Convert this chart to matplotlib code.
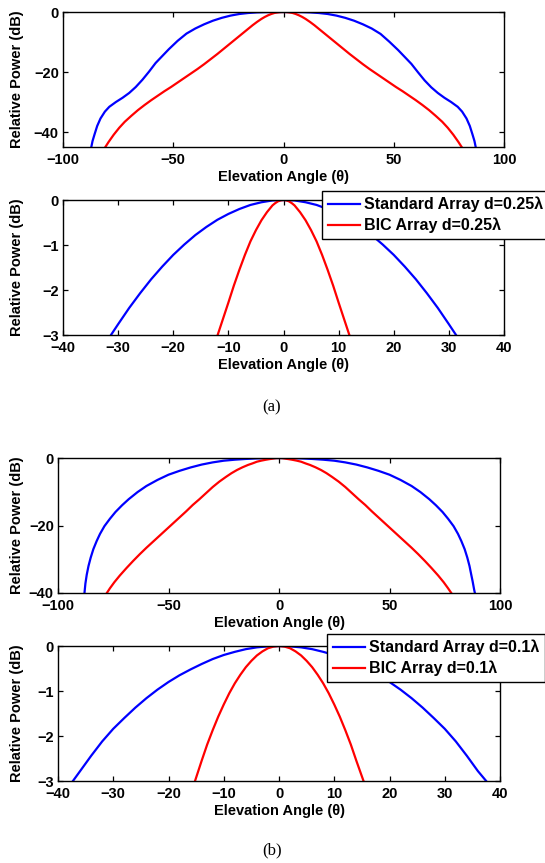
import matplotlib
matplotlib.use('Agg')
import matplotlib.pyplot as plt

plt.rcParams['font.family'] = ['Liberation Sans', 'DejaVu Sans']
plt.rcParams['font.weight'] = 'bold'

W, H = 545, 863

# panel (a) top: d = 0.25 lambda, full range
a1_std_theta = [-87.3, -86.6, -85.7, -84.5, -83.0, -81.0, -79.0, -76.0, -73.0, -70.0, -67.0, -64.0,
                -61.0, -58.0, -55.0, -52.0, -48.0, -44.0, -40.0, -36.0, -32.0, -28.0, -24.0, -20.0,
                -16.0, -12.0, -8.0, -4.0, 0.0,
                4.0, 8.0, 12.0, 16.0, 20.0, 24.0, 28.0, 32.0, 36.0, 40.0, 44.0, 48.0, 52.0,
                55.0, 58.0, 61.0, 64.0, 67.0, 70.0, 73.0, 76.0, 79.0, 81.0, 83.0, 84.5, 85.7,
                86.6, 87.3]
a1_std_db = [-45.5, -43.0, -40.8, -38.0, -35.5, -33.2, -31.6, -30.0, -28.6, -27.0, -25.0, -22.6,
             -19.9, -17.0, -14.7, -12.4, -9.6, -7.2, -5.5, -4.1, -2.9, -1.95, -1.2, -0.66,
             -0.33, -0.13, -0.04, -0.01, 0.0,
             -0.01, -0.04, -0.13, -0.33, -0.66, -1.2, -1.95, -2.9, -4.1, -5.5, -7.3, -9.9, -12.7,
             -15.0, -17.3, -20.1, -22.8, -25.1, -27.0, -28.6, -30.0, -31.6, -33.2, -35.5, -38.0, -40.8,
             -43.0, -45.5]

a1_bic_theta = [-81.5, -79.3, -77.0, -74.5, -72.0, -69.0, -66.0, -63.0, -60.0, -57.0, -54.0, -51.0,
                -48.0, -45.0, -42.0, -39.0, -36.0, -33.0, -30.0, -28.0, -26.0, -24.0, -22.0, -20.0,
                -18.0, -16.0, -14.0, -12.0, -10.0, -8.5, -7.0, -5.5, -4.0, -3.0, -2.0, -1.0, 0.0,
                1.0, 2.0, 3.0, 4.0, 5.5, 7.0, 8.5, 10.0, 12.0, 14.0, 16.0, 18.0, 20.0, 22.0, 24.0,
                26.0, 28.0, 30.0, 33.0, 36.0, 39.0, 42.0, 45.0, 48.0, 51.0, 54.0, 57.0, 60.0, 63.0,
                66.0, 69.0, 72.0, 74.5, 77.0, 79.3, 81.5]
a1_bic_db = [-45.8, -43.3, -40.9, -38.6, -36.6, -34.6, -32.7, -31.0, -29.4, -27.9, -26.4, -25.0,
             -23.5, -22.0, -20.5, -19.0, -17.4, -15.7, -14.0, -12.8, -11.6, -10.4, -9.2, -8.0,
             -6.8, -5.6, -4.4, -3.3, -2.3, -1.65, -1.1, -0.65, -0.3, -0.18, -0.08, -0.02, 0.0,
             -0.02, -0.08, -0.18, -0.3, -0.65, -1.1, -1.65, -2.3, -3.3, -4.4, -5.6, -6.8, -8.0, -9.2, -10.4,
             -11.6, -12.8, -14.0, -15.7, -17.4, -19.0, -20.5, -22.0, -23.5, -25.0, -26.4, -27.9, -29.4, -31.0,
             -32.7, -34.6, -36.6, -38.6, -40.9, -43.3, -45.8]

# panel (a) bottom: d = 0.25 lambda, zoom on main lobe
a2_std_theta = [-32.0, -31.3, -30.0, -28.0, -26.0, -24.0, -22.0, -20.0, -18.0, -16.0, -14.0, -12.0,
                -10.0, -8.0, -6.0, -4.0, -2.0, 0.0,
                2.0, 4.0, 6.0, 8.0, 10.0, 12.0, 14.0, 16.0, 18.0, 20.0, 22.0, 24.0, 26.0, 28.0,
                30.0, 31.3, 32.0]
a2_std_db = [-3.14, -3.0, -2.76, -2.4, -2.07, -1.76, -1.48, -1.22, -0.99, -0.78, -0.6, -0.44,
             -0.31, -0.2, -0.11, -0.05, -0.01, 0.0,
             -0.01, -0.05, -0.11, -0.2, -0.31, -0.44, -0.6, -0.78, -0.99, -1.22, -1.48, -1.76, -2.07, -2.4,
             -2.76, -3.0, -3.14]

a2_bic_theta = [-12.3, -12.0, -11.0, -10.0, -9.0, -8.0, -7.0, -6.0, -5.0, -4.0, -3.0, -2.0, -1.5, -1.0,
                -0.5, 0.0, 0.5, 1.0, 1.5, 2.0, 3.0, 4.0, 5.0, 6.0, 7.0, 8.0, 9.0, 10.0, 11.0, 12.0, 12.3]
a2_bic_db = [-3.12, -3.02, -2.65, -2.28, -1.9, -1.55, -1.22, -0.92, -0.67, -0.45, -0.27, -0.12, -0.07, -0.03,
             -0.008, 0.0, -0.008, -0.03, -0.07, -0.12, -0.27, -0.45, -0.67, -0.92, -1.22, -1.55, -1.9, -2.28,
             -2.65, -3.02, -3.12]

# panel (b) top: d = 0.1 lambda, full range
b1_std_theta = [-88.1, -87.6, -87.0, -86.2, -85.2, -84.0, -82.5, -81.0, -79.0, -76.5, -74.0, -71.0,
                -68.0, -64.0, -60.0, -55.0, -50.0, -45.0, -40.0, -35.0, -30.0, -25.0, -20.0, -15.0,
                -10.0, -5.0, 0.0,
                5.0, 10.0, 15.0, 20.0, 25.0, 30.0, 35.0, 40.0, 45.0, 50.0, 55.0, 60.0, 64.0, 68.0,
                71.0, 74.0, 76.5, 79.0, 81.0, 82.5, 84.0, 85.2, 86.2, 87.0, 87.6, 88.3, 88.8]
b1_std_db = [-40.5, -37.2, -34.6, -32.0, -29.5, -27.0, -24.6, -22.5, -20.2, -18.0, -16.0, -14.0,
             -12.2, -10.1, -8.3, -6.5, -4.95, -3.8, -2.8, -1.95, -1.3, -0.8, -0.5, -0.28,
             -0.12, -0.03, 0.0,
             -0.03, -0.12, -0.28, -0.5, -0.8, -1.3, -1.95, -2.8, -3.8, -4.95, -6.5, -8.3, -10.1, -12.2,
             -14.0, -16.0, -18.0, -20.2, -22.5, -24.6, -27.0, -29.5, -32.0, -34.6, -36.5, -39.0, -40.5]

b1_bic_theta = [-78.7, -76.5, -74.5, -72.0, -69.0, -66.0, -63.0, -60.0, -57.0, -54.0, -51.0, -48.0,
                -45.0, -42.0, -39.0, -36.0, -33.0, -30.0, -27.0, -24.0, -21.5, -19.0, -16.5, -14.0,
                -12.0, -10.0, -8.0, -6.0, -4.5, -3.0, -1.5, 0.0,
                1.5, 3.0, 4.5, 6.0, 8.0, 10.0, 12.0, 14.0, 16.5, 19.0, 21.5, 24.0, 27.0, 30.0,
                33.0, 36.0, 39.0, 42.0, 45.0, 48.0, 51.0, 54.0, 57.0, 60.0, 63.0, 66.0, 69.0, 72.0,
                74.5, 76.5, 79.0]
b1_bic_db = [-40.8, -38.6, -36.8, -34.8, -32.6, -30.5, -28.5, -26.6, -24.8, -23.0, -21.2, -19.4,
             -17.6, -15.8, -13.9, -12.2, -10.4, -8.6, -7.0, -5.6, -4.5, -3.55, -2.75, -2.05,
             -1.6, -1.1, -0.78, -0.52, -0.35, -0.2, -0.05, 0.0,
             -0.05, -0.2, -0.35, -0.52, -0.78, -1.1, -1.6, -2.05, -2.75, -3.55, -4.5, -5.6, -7.0, -8.6,
             -10.4, -12.2, -13.9, -15.8, -17.6, -19.4, -21.2, -23.0, -24.8, -26.6, -28.5, -30.5, -32.6, -34.8,
             -36.8, -38.6, -41.0]

# panel (b) bottom: d = 0.1 lambda, zoom on main lobe
b2_std_theta = [-38.0, -37.3, -36.0, -34.0, -32.0, -30.0, -28.0, -26.0, -24.0, -22.0, -20.0, -18.0,
                -16.0, -14.0, -12.0, -10.0, -8.0, -6.0, -4.0, -2.0, 0.0,
                2.0, 4.0, 6.0, 8.0, 10.0, 12.0, 14.0, 16.0, 18.0, 20.0, 22.0, 24.0, 26.0, 28.0,
                30.0, 32.0, 34.0, 36.0, 37.5, 38.2]
b2_std_db = [-3.12, -3.0, -2.78, -2.44, -2.12, -1.84, -1.6, -1.37, -1.16, -0.97, -0.8, -0.65,
             -0.52, -0.4, -0.29, -0.2, -0.13, -0.07, -0.03, -0.008, 0.0,
             -0.008, -0.03, -0.07, -0.13, -0.2, -0.29, -0.4, -0.52, -0.65, -0.8, -0.97, -1.16, -1.37, -1.6,
             -1.84, -2.12, -2.44, -2.78, -3.0, -3.12]

b2_bic_theta = [-15.6, -15.2, -14.0, -13.0, -12.0, -11.0, -10.0, -9.0, -8.0, -7.0, -6.0, -5.0, -4.0,
                -3.0, -2.0, -1.0, 0.0,
                1.0, 2.0, 3.0, 4.0, 5.0, 6.0, 7.0, 8.0, 9.0, 10.0, 11.0, 12.0, 13.0, 14.0, 15.3, 15.7]
b2_bic_db = [-3.16, -3.0, -2.55, -2.19, -1.87, -1.57, -1.3, -1.05, -0.83, -0.64, -0.47, -0.33, -0.21,
             -0.12, -0.05, -0.013, 0.0,
             -0.013, -0.05, -0.12, -0.21, -0.33, -0.47, -0.64, -0.83, -1.05, -1.3, -1.57, -1.87, -2.19,
             -2.55, -3.0, -3.16]

panels = [
    dict(box=(63, 12, 504, 147), std=(a1_std_theta, a1_std_db), bic=(a1_bic_theta, a1_bic_db),
         xlim=(-100, 100), ylim=(-45, 0), xt=[-100, -50, 0, 50, 100], yt=[-40, -20, 0], leg=None),
    dict(box=(63, 200, 504, 335), std=(a2_std_theta, a2_std_db), bic=(a2_bic_theta, a2_bic_db),
         xlim=(-40, 40), ylim=(-3, 0), xt=list(range(-40, 41, 10)), yt=[-3, -2, -1, 0],
         leg=('0.25', 322, 191)),
    dict(box=(58, 458, 500, 593), std=(b1_std_theta, b1_std_db), bic=(b1_bic_theta, b1_bic_db),
         xlim=(-100, 100), ylim=(-40, 0), xt=[-100, -50, 0, 50, 100], yt=[-40, -20, 0], leg=None),
    dict(box=(58, 646, 500, 781), std=(b2_std_theta, b2_std_db), bic=(b2_bic_theta, b2_bic_db),
         xlim=(-40, 40), ylim=(-3, 0), xt=list(range(-40, 41, 10)), yt=[-3, -2, -1, 0],
         leg=('0.1', 327, 634)),
]

fig = plt.figure(figsize=(W / 100, H / 100), dpi=100)

for p in panels:
    l, t, r, b = p['box']
    ax = fig.add_axes([l / W, 1 - b / H, (r - l) / W, (b - t) / H])
    ax.plot(p['std'][0], p['std'][1], color='#0000ff', lw=1.6)
    ax.plot(p['bic'][0], p['bic'][1], color='#ff0000', lw=1.6)
    ax.set_xlim(*p['xlim'])
    ax.set_ylim(*p['ylim'])
    ax.set_xticks(p['xt'])
    ax.set_yticks(p['yt'])
    ax.tick_params(direction='in', top=True, right=True, length=3.5, width=0.9,
                   labelsize=10.5, colors='black')
    ax.tick_params(axis='x', pad=4)
    ax.tick_params(axis='y', pad=3)
    for s in ax.spines.values():
        s.set_linewidth(1.0)
    for lab in ax.get_xticklabels() + ax.get_yticklabels():
        lab.set_fontweight('bold')
    ax.set_xlabel('Elevation Angle (θ)', fontsize=10.5, fontweight='bold')
    ax.set_ylabel('Relative Power (dB)', fontsize=10.5, fontweight='bold')
    ax.xaxis.label.set_va('center')
    ax.yaxis.label.set_va('center')
    ax.xaxis.set_label_coords(0.5, -29.5 / (b - t))
    ax.yaxis.set_label_coords(-(l - 17) / (r - l), 0.5)
    if p['leg']:
        d, lx, ly = p['leg']
        leg = ax.legend(['Standard Array d=%sλ' % d, 'BIC Array d=%sλ' % d],
                        loc='upper left', bbox_to_anchor=(lx / W, 1 - ly / H),
                        bbox_transform=fig.transFigure, borderaxespad=0,
                        fancybox=False, framealpha=1, edgecolor='black',
                        prop={'size': 11.5, 'weight': 'bold'},
                        borderpad=0.35, labelspacing=0.35, handlelength=2.0, handletextpad=0.3)
        leg.get_frame().set_linewidth(1.0)

fig.text(272 / W, 1 - 407 / H, '(a)', ha='center', va='center', fontsize=12,
         family='Liberation Serif', fontweight='normal')
fig.text(272 / W, 1 - 850 / H, '(b)', ha='center', va='center', fontsize=12,
         family='Liberation Serif', fontweight='normal')

fig.savefig('out.png', dpi=100)
